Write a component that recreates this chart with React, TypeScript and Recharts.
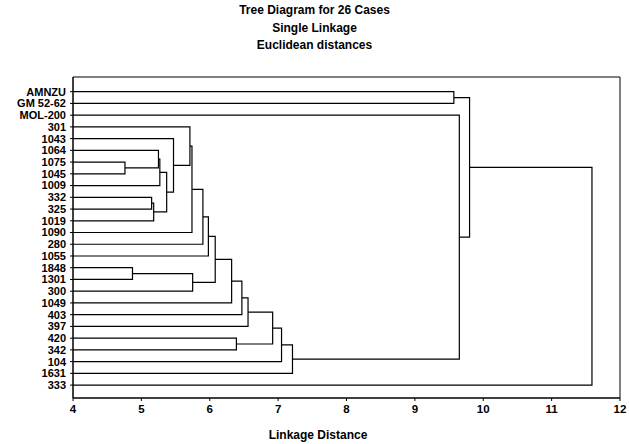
import React from "react";
import { ComposedChart, Scatter, XAxis, YAxis, ReferenceArea } from "recharts";

// Leaf (case) labels, top to bottom
const leafLabels = [
  "AMNZU", "GM 52-62", "MOL-200", "301", "1043", "1064", "1075", "1045", "1009",
  "332", "325", "1019", "1090", "280", "1055", "1848", "1301", "300", "1049",
  "403", "397", "420", "342", "104", "1631", "333",
];

// Single-linkage merges: children (L = leaf index, M = earlier merge) and linkage distance
const mergeA = ["L6", "L15", "L9", "M2", "L5", "M4", "M5", "L4", "L3", "M8", "M1", "M9", "M11", "M12", "M13", "L21", "M14", "M16", "M17", "M18", "M19", "L0", "L2", "M21", "M23"];
const mergeB = ["L7", "L16", "L10", "L11", "M0", "L8", "M3", "M6", "M7", "L12", "L17", "L13", "L14", "M10", "L18", "L22", "L19", "L20", "M15", "L23", "L24", "L1", "M20", "M22", "L25"];
const mergeHeight = [4.76, 4.87, 5.15, 5.18, 5.25, 5.27, 5.37, 5.47, 5.71, 5.74, 5.75, 5.9, 5.98, 6.08, 6.32, 6.39, 6.47, 6.56, 6.92, 7.05, 7.21, 9.57, 9.65, 9.8, 11.59];

const xTicks = [4, 5, 6, 7, 8, 9, 10, 11, 12];
const titleLines = ["Tree Diagram for 26 Cases", "Single Linkage", "Euclidean distances"];
const xTitle = "Linkage Distance";

const X_MIN = 4;
const X_MAX = 12;
const Y_MIN = -1.25;
const Y_MAX = 26.1;

type Node = { h: number; y: number };
const nodes: Node[] = [];
const getNode = (id: string): Node => {
  const i = parseInt(id.slice(1), 10);
  if (id[0] === "L") return { h: X_MIN, y: i };
  return nodes[i];
};
const segments: { x: number; y: number }[][] = mergeHeight.map((h, k) => {
  const a = getNode(mergeA[k]);
  const b = getNode(mergeB[k]);
  nodes[k] = { h, y: (a.y + b.y) / 2 };
  return [
    { x: a.h, y: a.y },
    { x: h, y: a.y },
    { x: h, y: b.y },
    { x: b.h, y: b.y },
  ];
});

const font = "'Liberation Sans', Arial, sans-serif";
const noShape = () => <g />;

export default function App() {
  return (
    <div style={{ position: "absolute", left: 0, top: 0, width: 629, height: 444, background: "#fff", fontFamily: font }}>
      {titleLines.map((t, i) => (
        <div
          key={t}
          style={{
            position: "absolute",
            left: 0,
            width: 629,
            top: 3 + i * 17.5,
            textAlign: "center",
            fontSize: 12,
            fontWeight: "bold",
            lineHeight: "14px",
            color: "#000",
          }}
        >
          {t}
        </div>
      ))}
      <div
        style={{
          position: "absolute",
          left: 0,
          width: 636,
          top: 428,
          textAlign: "center",
          fontSize: 12,
          fontWeight: "bold",
          lineHeight: "14px",
          color: "#000",
        }}
      >
        {xTitle}
      </div>
      <div style={{ position: "absolute", left: 0, top: 0 }}>
        <ComposedChart width={629} height={444} margin={{ top: 77, right: 9, bottom: 0, left: 0 }}>
          <XAxis
            type="number"
            dataKey="x"
            domain={[X_MIN, X_MAX]}
            ticks={xTicks}
            allowDataOverflow
            height={46}
            tickSize={3}
            tickMargin={4}
            stroke="#000"
            tick={{ fill: "#000", fontSize: 11.5, fontWeight: "bold", fontFamily: font }}
          />
          <YAxis
            type="number"
            dataKey="y"
            reversed
            domain={[Y_MIN, Y_MAX]}
            ticks={leafLabels.map((_, i) => i)}
            tickFormatter={(v: number) => leafLabels[v] ?? ""}
            allowDataOverflow
            interval={0}
            width={73}
            tickSize={3}
            tickMargin={4}
            stroke="#000"
            tick={{ fill: "#000", fontSize: 11, fontWeight: "bold", fontFamily: font }}
          />
          <ReferenceArea x1={X_MIN} x2={X_MAX} y1={Y_MIN} y2={Y_MAX} fill="none" stroke="#000" strokeWidth={1} fillOpacity={0} />
          {segments.map((seg, k) => (
            <Scatter
              key={k}
              data={seg}
              line={{ stroke: "#000", strokeWidth: 1.2 }}
              lineType="joint"
              shape={noShape}
              isAnimationActive={false}
              legendType="none"
            />
          ))}
        </ComposedChart>
      </div>
    </div>
  );
}
